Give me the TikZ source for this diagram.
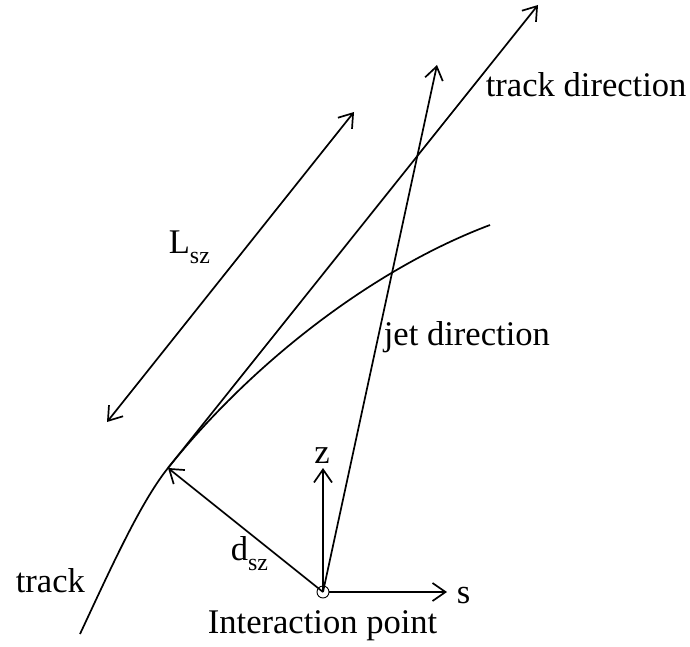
\documentclass[tikz,border=0pt]{standalone}
\usepackage{fontspec}
\setmainfont{Liberation Serif}
\usetikzlibrary{arrows.meta}
\begin{document}
\begin{tikzpicture}[x=1bp,y=-1bp,
  line width=1.7bp,
  arr/.style={-{Straight Barb[length=13bp,width=18bp]}},
  darr/.style={{Straight Barb[length=13bp,width=18bp]}-{Straight Barb[length=13bp,width=18bp]}},
  lbl/.style={anchor=base west,inner sep=0pt,font=\fontsize{34.7}{40}\selectfont},
  sub/.style={}]
\useasboundingbox (0,0) rectangle (690,647);
% coordinates
\coordinate (ip) at (323,592);
\coordinate (tp) at (168,468);
\coordinate (tb) at (80,634);
\coordinate (te) at (490,225);
\coordinate (tdir) at (538,5);
\coordinate (jdir) at (437,65);
\coordinate (sax) at (447,592);
\coordinate (zax) at (323,468);
\coordinate (la) at (107,422);
\coordinate (lb) at (354,112);
% track curve
\draw (tb) .. controls (110,570) and (140,503) .. (tp)
           .. controls (255.4,358.7) and (377.7,267.1) .. (te);
% track direction
\draw[arr] (tp) -- (tdir);
% jet direction
\draw[arr] (ip) -- (jdir);
% d_sz
\draw[arr] (ip) -- (tp);
% axes
\draw[arr] (ip) -- (zax);
\draw[arr] (ip) ++(6,0) coordinate (ipr) -- (sax);
% L_sz
\draw[darr] (la) -- (lb);
% IP circle
\node[draw,circle,line width=0.9bp,minimum size=12bp,inner sep=0pt] (ipc) at (ip) {};
% labels
\node[lbl] (ltd) at (485,97) {track direction};
\node[lbl] (ljd) at (383,345) {jet direction};
\node[lbl] (lL) at (168,253) {L\raisebox{-10bp}{\fontsize{24}{24}\selectfont sz}};
\node[lbl] (ld) at (230,560) {d\raisebox{-10bp}{\fontsize{24}{24}\selectfont sz}};
\node[lbl,anchor=base] (lz) at (322,463) {z};
\node[lbl] (ls) at (456,603) {s};
\node[lbl] (lip) at (207,633) {Interaction point};
\node[lbl] (ltr) at (15,592) {track};
\end{tikzpicture}
\end{document}
